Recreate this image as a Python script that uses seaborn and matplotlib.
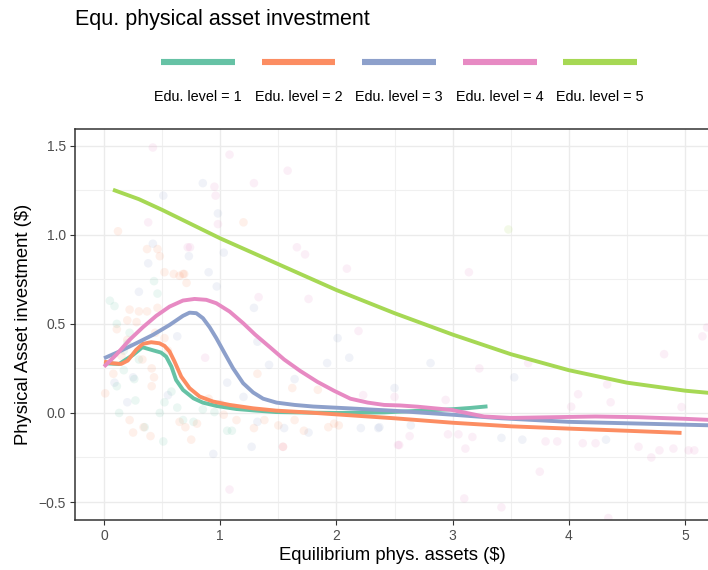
import numpy as np
import pandas as pd
import seaborn as sns
import matplotlib.pyplot as plt
from matplotlib.ticker import MultipleLocator, FixedLocator, FixedFormatter

# ---------------- data ----------------
levels = ["Edu. level = 1", "Edu. level = 2", "Edu. level = 3",
          "Edu. level = 4", "Edu. level = 5"]

# smoothed curves
c1_x = [0.0, 0.13, 0.25, 0.33, 0.43, 0.49, 0.535, 0.58, 0.62, 0.68, 0.77, 0.85, 0.97, 1.14,
        1.31, 1.48, 1.75, 2.0, 2.41, 2.87, 3.0, 3.15, 3.3]
c1_y = [0.279, 0.275, 0.326, 0.369, 0.35, 0.339, 0.316, 0.26, 0.185, 0.129, 0.082, 0.058,
        0.039, 0.022, 0.013, 0.005, 0.002, 0.0, 0.003, 0.017, 0.021, 0.028, 0.037]

c2_x = [0.0, 0.075, 0.147, 0.204, 0.276, 0.334, 0.406, 0.477, 0.521, 0.564, 0.607, 0.664,
        0.736, 0.823, 0.938, 1.081, 1.283, 1.48, 1.75, 2.0, 2.5, 3.0, 3.5, 4.0, 4.5, 4.97]
c2_y = [0.288, 0.279, 0.275, 0.294, 0.354, 0.388, 0.397, 0.391, 0.376, 0.345, 0.288, 0.204,
        0.139, 0.092, 0.064, 0.045, 0.026, 0.013, 0.003, -0.008, -0.03, -0.055, -0.075, -0.088,
        -0.1, -0.112]

c3_x = [0.0, 0.132, 0.276, 0.42, 0.564, 0.679, 0.736, 0.794, 0.851, 0.909, 0.966, 1.038,
        1.11, 1.197, 1.283, 1.369, 1.484, 1.64, 1.8, 2.13, 2.5, 3.0, 3.42, 4.0, 4.5, 5.0, 5.25]
c3_y = [0.307, 0.345, 0.391, 0.438, 0.494, 0.545, 0.563, 0.56, 0.532, 0.481, 0.42, 0.335,
        0.251, 0.167, 0.115, 0.08, 0.058, 0.045, 0.036, 0.025, 0.012, -0.01, -0.03, -0.05,
        -0.058, -0.066, -0.07]

c4_x = [0.0, 0.104, 0.219, 0.334, 0.449, 0.564, 0.679, 0.779, 0.88, 0.966, 1.081, 1.197,
        1.3, 1.426, 1.55, 1.69, 1.835, 1.978, 2.12, 2.27, 2.41, 2.55, 2.7, 2.99, 3.27, 3.5,
        3.85, 4.23, 4.6, 5.0, 5.25]
c4_y = [0.26, 0.326, 0.41, 0.481, 0.545, 0.597, 0.631, 0.64, 0.635, 0.616, 0.569, 0.504,
        0.44, 0.37, 0.3, 0.235, 0.175, 0.125, 0.08, 0.058, 0.045, 0.042, 0.035, 0.017, -0.02,
        -0.028, -0.024, -0.02, -0.024, -0.033, -0.04]

c5_x = [0.077, 0.3, 0.5, 0.75, 1.0, 1.5, 2.0, 2.5, 3.0, 3.5, 4.0, 4.5, 5.0, 5.25]
c5_y = [1.253, 1.2, 1.14, 1.06, 0.98, 0.835, 0.69, 0.56, 0.44, 0.33, 0.24, 0.17, 0.125, 0.11]

# raw observations (faint points)
p1_x = [0.05, 0.09, 0.46, 0.43, 0.11, 0.2, 0.17, 0.26, 0.11, 0.27, 0.13, 0.35, 0.52, 0.48,
        0.63, 0.77, 0.95, 1.06, 0.17, 0.51, 1.1, 0.68, 0.3, 0.22, 0.58, 0.85]
p1_y = [0.63, 0.6, 0.67, 0.74, 0.5, 0.39, 0.35, 0.19, 0.15, 0.07, 0.0, -0.08, 0.06, 0.0,
        0.03, -0.05, 0.005, -0.1, 0.24, -0.16, -0.1, -0.04, 0.3, 0.45, 0.12, 0.02]

p2_x = [0.37, 0.46, 0.48, 0.52, 0.6, 0.69, 0.71, 0.22, 0.3, 0.37, 0.46, 0.2, 0.28, 0.44,
        0.52, 0.2, 0.11, 0.41, 0.43, 0.41, 0.01, 0.22, 0.34, 0.65, 0.7, 0.8, 1.03, 1.32,
        1.14, 1.38, 0.12, 1.2, 0.68, 0.65, 0.25, 0.75, 0.4, 1.54, 1.84, 1.64, 1.98, 1.62,
        1.29, 1.5, 1.72, 2.02, 1.93, 0.15, 0.33, 0.55, 0.08, 0.9]
p2_y = [0.92, 0.92, 0.88, 0.79, 0.78, 0.78, 0.73, 0.58, 0.57, 0.57, 0.59, 0.52, 0.51, 0.45,
        0.42, 0.41, 0.47, 0.25, 0.2, 0.15, 0.11, -0.04, -0.08, -0.05, -0.08, -0.06, -0.01, 0.22,
        -0.04, -0.04, 1.02, 1.07, 0.78, 0.77, -0.11, -0.15, -0.13, -0.19, 0.13, -0.04, -0.06, 0.14,
        -0.085, -0.07, -0.1, -0.07, -0.08, 0.32, 0.3, 0.35, 0.22, 0.08]

p3_x = [0.85, 0.51, 0.98, 0.42, 0.73, 0.38, 0.9, 0.3, 0.97, 1.03, 0.63, 1.29, 1.42, 1.06,
        1.2, 1.32, 0.2, 0.09, 1.32, 1.64, 2.01, 2.11, 1.92, 2.81, 1.76, 1.27, 1.55, 2.21,
        2.36, 2.64, 2.5, 3.53, 2.37, 3.42, 3.6, 4.32, 0.94, 0.25, 0.55, 1.0]
p3_y = [1.29, 1.22, 1.12, 0.95, 0.88, 0.84, 0.79, 0.68, 0.71, 0.9, 0.43, 0.59, 0.27, 0.17,
        0.09, -0.05, 0.06, 0.17, 0.4, 0.19, 0.42, 0.31, 0.28, 0.28, -0.11, -0.19, -0.085, -0.085,
        -0.085, -0.07, 0.14, 0.2, -0.08, -0.14, -0.15, -0.15, -0.23, 0.2, 0.1, 0.05]

p4_x = [0.42, 1.08, 1.58, 0.95, 1.29, 0.96, 0.38, 0.98, 0.72, 1.66, 1.73, 2.09, 1.33, 1.76,
        2.19, 3.14, 5.19, 5.15, 4.82, 3.23, 4.33, 4.08, 4.36, 4.02, 4.97, 3.65, 3.8, 3.9,
        4.12, 4.23, 4.6, 4.78, 4.9, 4.71, 5.03, 5.08, 3.75, 3.42, 4.34, 2.23, 2.5, 2.94,
        2.63, 2.53, 2.96, 3.05, 3.17, 3.11, 1.54, 3.1, 2.54, 1.08, 0.87, 0.74]
p4_y = [1.49, 1.45, 1.36, 1.27, 1.29, 1.22, 1.07, 1.06, 0.93, 0.93, 0.89, 0.81, 0.65, 0.64,
        0.46, 0.79, 0.48, 0.43, 0.33, 0.25, 0.16, 0.105, 0.06, 0.035, 0.033, 0.28, -0.16, -0.16,
        -0.17, -0.17, -0.19, -0.21, -0.2, -0.25, -0.21, -0.21, -0.33, -0.53, -0.59, 0.1, 0.09, 0.073,
        -0.13, -0.18, -0.12, -0.12, -0.135, -0.2, -0.19, -0.48, -0.18, -0.43, 0.31, 0.93]

p5_x = [3.48]
p5_y = [1.03]

# ---------------- tables ----------------
curves = [(c1_x, c1_y), (c2_x, c2_y), (c3_x, c3_y), (c4_x, c4_y), (c5_x, c5_y)]
points = [(p1_x, p1_y), (p2_x, p2_y), (p3_x, p3_y), (p4_x, p4_y), (p5_x, p5_y)]

df_lines = pd.concat([pd.DataFrame({"x": cx, "y": cy, "level": lv})
                      for (cx, cy), lv in zip(curves, levels)], ignore_index=True)
df_pts = pd.concat([pd.DataFrame({"x": px, "y": py, "level": lv})
                    for (px, py), lv in zip(points, levels)], ignore_index=True)

# ---------------- style ----------------
sns.set_theme(style="white")
plt.rcParams["font.family"] = ["Liberation Sans", "DejaVu Sans"]
palette = sns.color_palette("Set2", 5)

W, H = 708, 570
fig = plt.figure(figsize=(W / 100, H / 100), dpi=100)
ax = fig.add_axes([75 / W, 1 - 520 / H, (W - 75) / W + 0.002, (520 - 129) / H])

sns.scatterplot(data=df_pts, x="x", y="y", hue="level", hue_order=levels,
                palette=palette, s=38, alpha=0.13, linewidth=0, legend=False,
                ax=ax, zorder=2)
sns.lineplot(data=df_lines, x="x", y="y", hue="level", hue_order=levels,
             palette=palette, sort=False, estimator=None, linewidth=2.8,
             solid_joinstyle="round", solid_capstyle="butt",
             ax=ax, zorder=3)

ax.set_xlim(-0.25, 5.21)
ax.set_ylim(-0.601, 1.594)

ax.xaxis.set_major_locator(FixedLocator([0, 1, 2, 3, 4, 5]))
ax.xaxis.set_major_formatter(FixedFormatter(["0", "1", "2", "3", "4", "5"]))
ax.xaxis.set_minor_locator(MultipleLocator(0.5))
ax.yaxis.set_major_locator(FixedLocator([-0.5, 0.0, 0.5, 1.0, 1.5]))
ax.yaxis.set_major_formatter(FixedFormatter(["\u22120.5", "0.0", "0.5", "1.0", "1.5"]))
ax.yaxis.set_minor_locator(MultipleLocator(0.25))

ax.grid(which="major", color="#ebebeb", linewidth=1.0, zorder=0)
ax.grid(which="minor", color="#f0f0f0", linewidth=0.8, zorder=0)
ax.set_axisbelow(True)

for side in ["left", "top", "bottom"]:
    ax.spines[side].set_color("#333333")
    ax.spines[side].set_linewidth(1.1)
ax.spines["right"].set_visible(False)

ax.tick_params(axis="both", which="major", direction="out", length=3.5, width=0.8,
               color="#333333", labelcolor="#4d4d4d", labelsize=10, pad=3,
               bottom=True, left=True)
ax.tick_params(which="minor", length=0)

ax.set_xlabel("Equilibrium phys. assets ($)", fontsize=13.3, color="black", labelpad=3)
ax.set_ylabel("Physical Asset investment ($)", fontsize=13.3, color="black", labelpad=5)

# legend: handles in a row, labels below each handle
handles, labs = ax.get_legend_handles_labels()
ax.get_legend().remove()
leg = fig.legend(handles, [""] * 5, ncol=5, loc="center",
                 bbox_to_anchor=(399 / W, 1 - 63 / H), frameon=False,
                 handlelength=5.9, handletextpad=0.0, columnspacing=2.15,
                 fontsize=9, borderpad=0, borderaxespad=0)
for ln in leg.get_lines():
    ln.set_linewidth(4.4)
    ln.set_solid_capstyle("butt")

fig.canvas.draw()
for ln, lab in zip(leg.get_lines(), levels):
    bb = ln.get_window_extent(fig.canvas.get_renderer())
    cx = (bb.x0 + bb.x1) / 2 / W
    fig.text(cx, 1 - 97 / H, lab, ha="center", va="center", fontsize=10.4, color="black")

fig.text(75 / W, 1 - 19 / H, "Equ. physical asset investment", ha="left", va="center",
         fontsize=15.5, color="black")

fig.savefig("out.png", dpi=100)
